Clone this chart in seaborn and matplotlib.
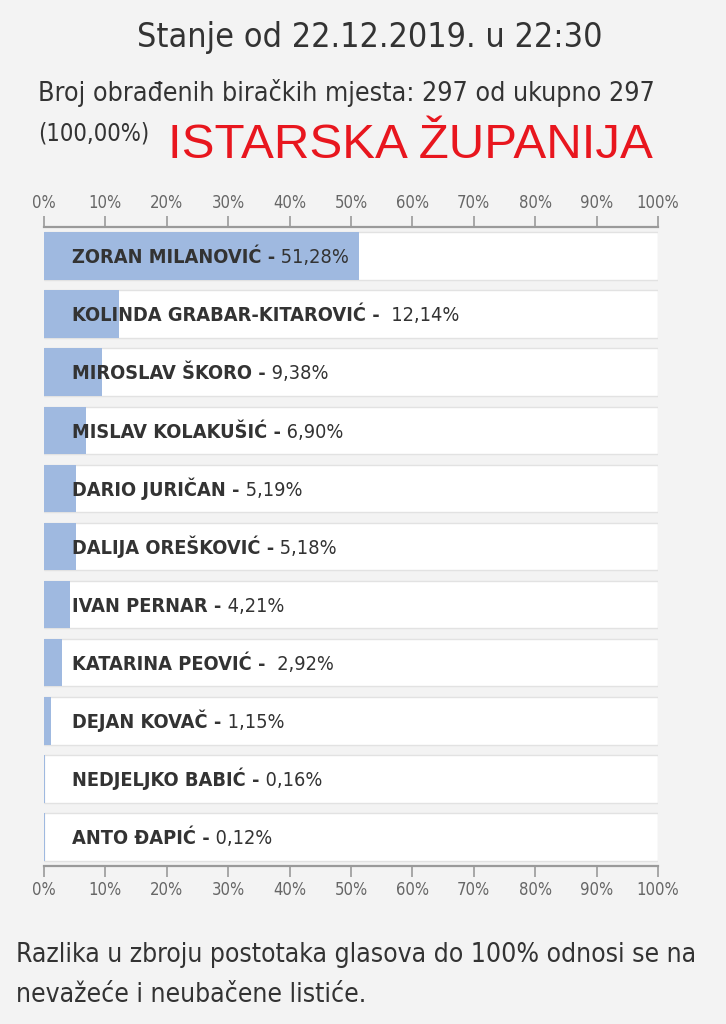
import matplotlib
matplotlib.use("Agg")
import matplotlib.pyplot as plt
import seaborn as sns
import pandas as pd

candidates = ["ZORAN MILANOVIĆ", "KOLINDA GRABAR-KITAROVIĆ", "MIROSLAV ŠKORO",
              "MISLAV KOLAKUŠIĆ", "DARIO JURIČAN", "DALIJA OREŠKOVIĆ",
              "IVAN PERNAR", "KATARINA PEOVIĆ", "DEJAN KOVAČ",
              "NEDJELJKO BABIĆ", "ANTO ĐAPIĆ"]
percent = [51.28, 12.14, 9.38, 6.90, 5.19, 5.18, 4.21, 2.92, 1.15, 0.16, 0.12]
value_labels = ["51,28%", " 12,14%", "9,38%", "6,90%", "5,19%", "5,18%",
                "4,21%", " 2,92%", "1,15%", "0,16%", "0,12%"]
ticks = [0, 10, 20, 30, 40, 50, 60, 70, 80, 90, 100]
tick_labels = [f"{t}%" for t in ticks]

title = "Stanje od 22.12.2019. u 22:30"
subtitle = "Broj obrađenih biračkih mjesta: 297 od ukupno 297"
subtitle2 = "(100,00%)"
region = "ISTARSKA ŽUPANIJA"
note1 = "Razlika u zbroju postotaka glasova do 100% odnosi se na"
note2 = "nevažeće i neubačene listiće."

df = pd.DataFrame({"candidate": candidates, "percent": percent,
                   "full": [100] * len(candidates)})

W, H = 726, 1024
BG = "#f3f3f3"
sns.set_theme(style="white")
plt.rcParams["font.family"] = ["DejaVu Sans"]

fig = plt.figure(figsize=(W / 100, H / 100), dpi=100, facecolor=BG)
ax = fig.add_axes([44 / W, 1 - 866 / H, (658 - 44) / W, (866 - 227) / H])
ax.set_facecolor(BG)

sns.barplot(data=df, x="full", y="candidate", orient="h", color="white",
            edgecolor="#e2e2e2", linewidth=1, width=0.82, ax=ax, saturation=1)
sns.barplot(data=df, x="percent", y="candidate", orient="h", color="#9fb9e0",
            edgecolor="none", linewidth=0, width=0.82, ax=ax, saturation=1)

ax.set_xlim(0, 100)
ax.set_ylim(len(candidates) - 0.5, -0.5)
ax.set_xlabel("")
ax.set_ylabel("")
ax.set_yticks([])
ax.set_xticks(ticks)
ax.set_xticklabels(tick_labels)
ax.tick_params(axis="x", which="both", top=True, bottom=True, labeltop=True,
               labelbottom=True, direction="out", length=8, width=1.2,
               color="#9a9a9a", labelcolor="#666666", labelsize=12, pad=3)
for lab in ax.get_xticklabels():
    lab.set_fontstretch("condensed")
for s in ["left", "right"]:
    ax.spines[s].set_visible(False)
for s in ["top", "bottom"]:
    ax.spines[s].set_color("#9a9a9a")
    ax.spines[s].set_linewidth(1.6)

TXT = "#333333"
FS = 14.3
fig.canvas.draw()
renderer = fig.canvas.get_renderer()
for i, (name, val) in enumerate(zip(candidates, value_labels)):
    t = ax.text(4.6, i + 0.125, name + " -", ha="left", va="baseline",
                fontsize=FS, fontweight="bold", fontstretch="condensed",
                color=TXT)
    bb = t.get_window_extent(renderer=renderer)
    x_data = ax.transData.inverted().transform((bb.x1, 0))[0]
    ax.text(x_data, i + 0.125, " " + val, ha="left", va="baseline",
            fontsize=FS, fontstretch="condensed", color=TXT)

fig.text(370 / W, 1 - 38 / H, title, ha="center", va="center", fontsize=24.5,
         fontstretch="condensed", color=TXT)
fig.text(38 / W, 1 - 93 / H, subtitle, ha="left", va="center", fontsize=19.3,
         fontstretch="condensed", color=TXT)
fig.text(38 / W, 1 - 133 / H, subtitle2, ha="left", va="center", fontsize=17,
         fontstretch="condensed", color=TXT)
fig.text(168 / W, 1 - 145 / H, region, ha="left", va="center", fontsize=35.5,
         family=["Liberation Sans"], color="#e8161e")
fig.text(16 / W, 1 - 955 / H, note1, ha="left", va="center", fontsize=19,
         fontstretch="condensed", color=TXT)
fig.text(16 / W, 1 - 995 / H, note2, ha="left", va="center", fontsize=19,
         fontstretch="condensed", color=TXT)

fig.savefig("out.png", dpi=100, facecolor=BG)
